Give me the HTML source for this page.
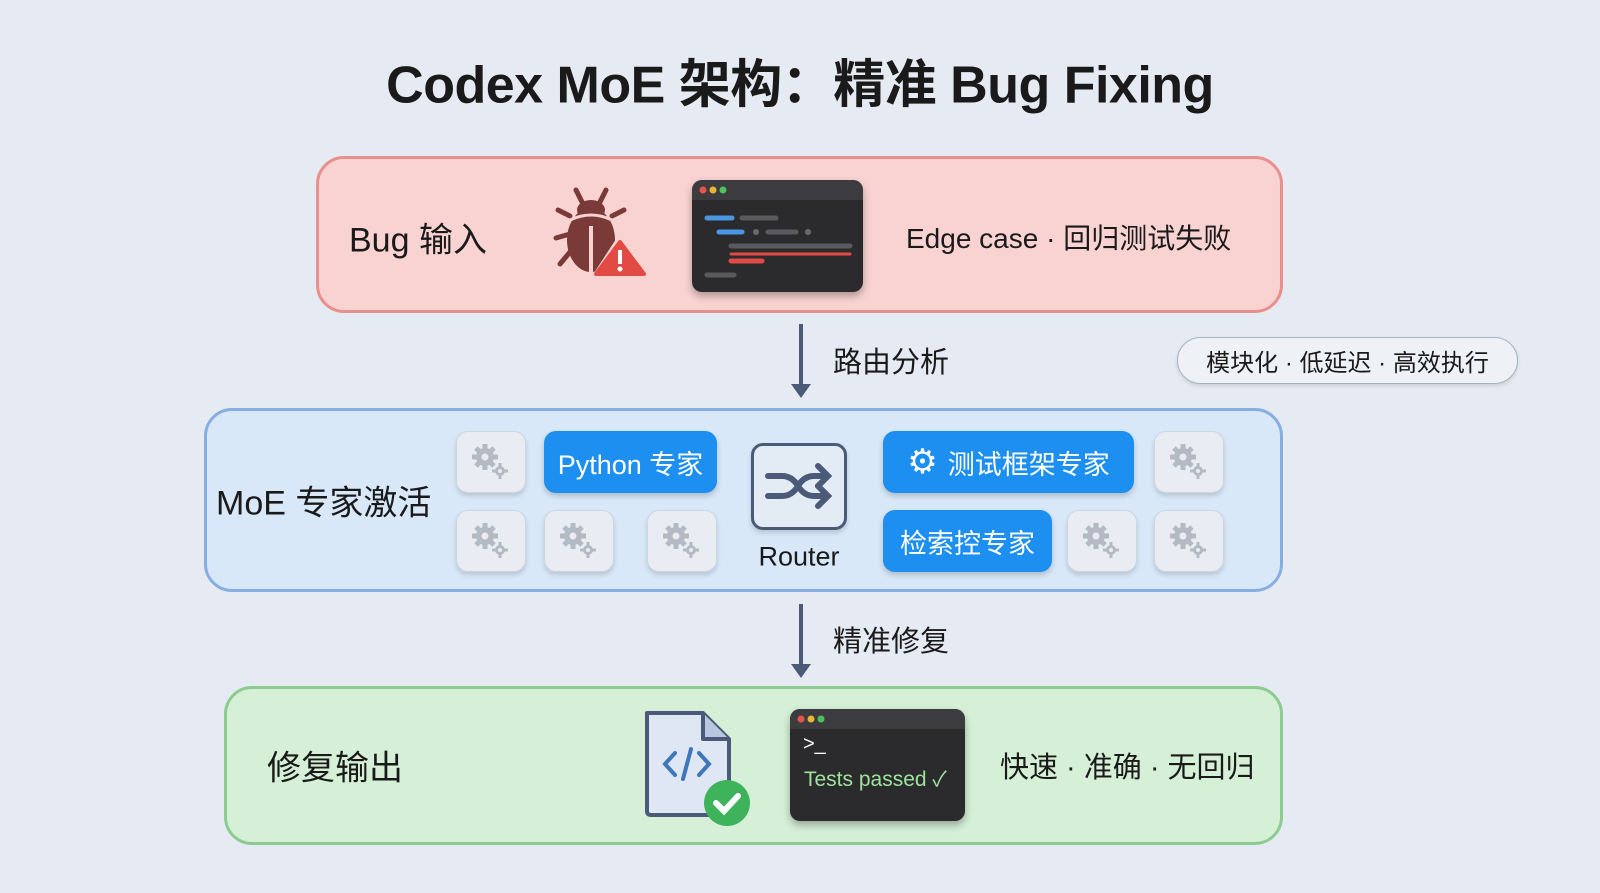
<!DOCTYPE html>
<html><head><meta charset="utf-8"><style>
*{margin:0;padding:0;box-sizing:border-box}
body{width:1600px;height:893px;background:#e6ebf3;font-family:"Liberation Sans","Noto Sans CJK SC",sans-serif;position:relative;overflow:hidden;color:#1a1a1a}
.a{position:absolute}
.box{position:absolute;border-radius:28px;border:3px solid}
.t{position:absolute;white-space:nowrap;transform:translateY(-50%)}
.tile{position:absolute;width:70px;height:62px;border-radius:12px;background:#e9edf3;border:1px solid #d0d6df;box-shadow:0 3px 5px rgba(0,0,0,.15);display:flex;align-items:center;justify-content:center}
.btn{position:absolute;height:62px;border-radius:12px;background:#1d8ff0;color:#fff;font-size:27px;display:flex;align-items:center;justify-content:center;box-shadow:0 3px 6px rgba(0,0,0,.2)}
</style></head><body>
<svg width="0" height="0" style="position:absolute"><defs>
<g id="gear"><g fill="#b4bac4"><circle cx="-6" cy="-5" r="9"/><g stroke="#b4bac4" stroke-width="5"><line x1="-6" y1="-18" x2="-6" y2="8"/><line x1="-19" y1="-5" x2="7" y2="-5"/><line x1="-15" y1="-14" x2="3" y2="4"/><line x1="3" y1="-14" x2="-15" y2="4"/></g><circle cx="9" cy="9" r="5"/><g stroke="#b4bac4" stroke-width="3"><line x1="9" y1="1" x2="9" y2="17"/><line x1="1" y1="9" x2="17" y2="9"/></g></g><circle cx="-6" cy="-5" r="3.5" fill="#e9edf3"/><circle cx="9" cy="9" r="2" fill="#e9edf3"/></g>
</defs></svg>
<div class="t" style="left:0;width:1600px;text-align:center;top:80px;font-size:52px;font-weight:bold;letter-spacing:-0.5px">Codex MoE 架构：精准 Bug Fixing</div>

<div class="box" style="left:316px;top:156px;width:967px;height:157px;background:#f9d3d1;border-color:#e98f8c"></div>
<div class="t" style="left:349px;top:237px;font-size:34px">Bug 输入</div>
<svg class="a" style="left:552px;top:186px" width="104" height="98" viewBox="0 0 104 98">
<g stroke="#7a3a38" stroke-width="5" fill="none" stroke-linecap="round"><path d="M30 16 L24 4"/><path d="M48 16 L54 4"/><path d="M18 48 L4 52"/><path d="M18 30 L6 24"/><path d="M18 66 L8 78"/><path d="M60 30 L72 24"/></g>
<ellipse cx="39" cy="54" rx="24" ry="32" fill="#7a3a38"/><ellipse cx="39" cy="24" rx="14" ry="10" fill="#7a3a38"/><path d="M18 34 Q39 24 60 34" stroke="#f9d3d1" stroke-width="3" fill="none"/><line x1="39" y1="40" x2="39" y2="86" stroke="#f9d3d1" stroke-width="4"/>
<path d="M66 50 L94 90 L40 90 Z" fill="#f9d3d1"/><path d="M68 56 L92 88 L44 88 Z" fill="#e24b43" stroke="#e24b43" stroke-width="4" stroke-linejoin="round"/><rect x="66" y="64" width="4" height="14" fill="#fff"/><circle cx="68" cy="83" r="2.5" fill="#fff"/></svg>
<div class="a" style="left:692px;top:180px;width:171px;height:112px;border-radius:10px;background:#2b2b2e;box-shadow:0 4px 8px rgba(0,0,0,.3);overflow:hidden">
<div style="height:20px;background:#3c3c40"></div>
<svg class="a" style="left:0;top:0" width="171" height="112"><circle cx="11" cy="10" r="3.5" fill="#e5534b"/><circle cx="21" cy="10" r="3.5" fill="#e8b730"/><circle cx="31" cy="10" r="3.5" fill="#4cc35a"/>
<g stroke-linecap="round" stroke-width="5"><line x1="15" y1="38" x2="40" y2="38" stroke="#4a96e0"/><line x1="50" y1="38" x2="84" y2="38" stroke="#5a5a5e"/><line x1="27" y1="52" x2="50" y2="52" stroke="#4a96e0"/><line x1="76" y1="52" x2="104" y2="52" stroke="#5a5a5e"/><line x1="39" y1="66" x2="158" y2="66" stroke="#5a5a5e"/><line x1="39" y1="74" x2="158" y2="74" stroke="#e24b43" stroke-width="3"/><line x1="39" y1="81" x2="70" y2="81" stroke="#e24b43"/><line x1="15" y1="95" x2="42" y2="95" stroke="#5a5a5e"/></g><circle cx="64" cy="52" r="3" fill="#6a6a6e"/><circle cx="116" cy="52" r="3" fill="#6a6a6e"/></svg></div>
<div class="t" style="left:906px;top:237px;font-size:28px">Edge case · 回归测试失败</div>

<svg class="a" style="left:786px;top:322px" width="30" height="78"><line x1="15" y1="2" x2="15" y2="66" stroke="#4a5a78" stroke-width="4"/><path d="M5 62 L15 76 L25 62 Z" fill="#4a5a78"/></svg>
<div class="t" style="left:833px;top:360px;font-size:29px">路由分析</div>
<div class="a" style="left:1177px;top:337px;width:341px;height:47px;border-radius:24px;background:#eef1f6;border:1.5px solid #aab2c0;box-shadow:0 2px 4px rgba(0,0,0,.12);font-size:24px;display:flex;align-items:center;justify-content:center">模块化 · 低延迟 · 高效执行</div>

<div class="box" style="left:204px;top:408px;width:1079px;height:184px;background:#d8e8f9;border-color:#86aee0"></div>
<div class="t" style="left:216px;top:500px;font-size:34px">MoE 专家激活</div>
<div class="tile" style="left:456px;top:431px"><svg width="40" height="40" viewBox="-20 -20 40 40"><use href="#gear"/></svg></div>
<div class="tile" style="left:456px;top:510px"><svg width="40" height="40" viewBox="-20 -20 40 40"><use href="#gear"/></svg></div>
<div class="tile" style="left:544px;top:510px"><svg width="40" height="40" viewBox="-20 -20 40 40"><use href="#gear"/></svg></div>
<div class="tile" style="left:647px;top:510px"><svg width="40" height="40" viewBox="-20 -20 40 40"><use href="#gear"/></svg></div>
<div class="tile" style="left:1154px;top:431px"><svg width="40" height="40" viewBox="-20 -20 40 40"><use href="#gear"/></svg></div>
<div class="tile" style="left:1067px;top:510px"><svg width="40" height="40" viewBox="-20 -20 40 40"><use href="#gear"/></svg></div>
<div class="tile" style="left:1154px;top:510px"><svg width="40" height="40" viewBox="-20 -20 40 40"><use href="#gear"/></svg></div>
<div class="btn" style="left:544px;top:431px;width:173px">Python 专家</div>
<div class="btn" style="left:883px;top:431px;width:251px"><span style="font-size:34px;margin-right:10px">⚙</span>测试框架专家</div>
<div class="btn" style="left:883px;top:510px;width:169px">检索控专家</div>
<div class="a" style="left:751px;top:443px;width:96px;height:87px;border-radius:12px;border:3px solid #4a5a78;background:#e3ebf5;box-shadow:0 3px 5px rgba(0,0,0,.15)">
<svg width="90" height="81" viewBox="0 0 90 81"><g stroke="#4a5a78" stroke-width="6" fill="none" stroke-linecap="round"><path d="M14 30 H28 Q38 30 44 40 Q50 50 60 50 H72"/><path d="M14 50 H28 Q38 50 44 40 Q50 30 60 30 H72"/><path d="M64 20 L74 30 L64 40"/><path d="M64 40 L74 50 L64 60"/></g></svg></div>
<div class="t" style="left:751px;width:96px;text-align:center;top:557px;font-size:27px">Router</div>

<svg class="a" style="left:786px;top:602px" width="30" height="78"><line x1="15" y1="2" x2="15" y2="66" stroke="#4a5a78" stroke-width="4"/><path d="M5 62 L15 76 L25 62 Z" fill="#4a5a78"/></svg>
<div class="t" style="left:833px;top:639px;font-size:29px">精准修复</div>

<div class="box" style="left:224px;top:686px;width:1059px;height:159px;background:#d5f0d7;border-color:#8ccc90"></div>
<div class="t" style="left:267px;top:765px;font-size:34px">修复输出</div>
<svg class="a" style="left:641px;top:709px" width="112" height="118" viewBox="0 0 112 118"><path d="M6 4 H62 L88 30 V102 Q88 106 84 106 H10 Q6 106 6 102 Z" fill="#dfe7f4" stroke="#4a5a78" stroke-width="4" stroke-linejoin="round"/><path d="M62 4 V30 H88" fill="#b9c7e0" stroke="#4a5a78" stroke-width="4" stroke-linejoin="round"/><g stroke="#3f78b8" stroke-width="4" fill="none" stroke-linecap="round"><path d="M34 44 L24 55 L34 66"/><path d="M58 44 L68 55 L58 66"/><path d="M50 40 L42 70"/></g><circle cx="86" cy="94" r="23" fill="#3fb35b"/><path d="M75 94 L83 102 L97 87" stroke="#fff" stroke-width="6" fill="none" stroke-linecap="round"/></svg>
<div class="a" style="left:790px;top:709px;width:175px;height:112px;border-radius:10px;background:#2b2b2e;box-shadow:0 4px 8px rgba(0,0,0,.3);overflow:hidden">
<div style="height:20px;background:#3c3c40"></div>
<svg class="a" style="left:0;top:0" width="60" height="20"><circle cx="11" cy="10" r="3.5" fill="#e5534b"/><circle cx="21" cy="10" r="3.5" fill="#e8b730"/><circle cx="31" cy="10" r="3.5" fill="#4cc35a"/></svg>
<div class="a" style="left:13px;top:24px;color:#fff;font-size:20px">&gt;_</div>
<div class="a" style="left:14px;top:54px;color:#9ee39c;font-size:21px;white-space:nowrap">Tests passed ✓</div></div>
<div class="t" style="left:1000px;top:765px;font-size:29px">快速 · 准确 · 无回归</div>
</body></html>
